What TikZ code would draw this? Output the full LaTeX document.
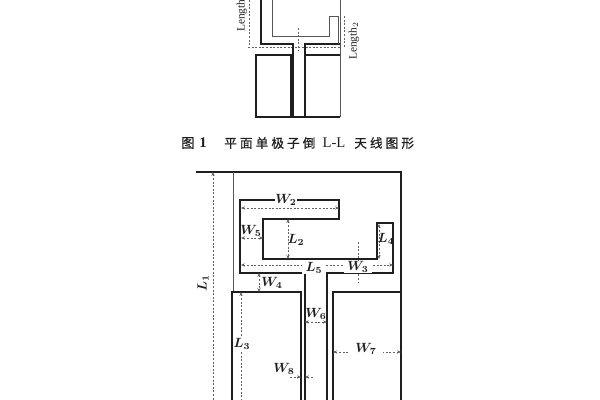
\documentclass[tikz,border=0pt]{standalone}
\usepackage{fontspec}
\setmainfont{Liberation Serif}
\newfontfamily\cjk[LetterSpace=24,FakeBold=0.6]{Noto Sans CJK SC}
\usetikzlibrary{arrows.meta}
\definecolor{ink}{gray}{0.12}
\tikzset{
  x=0.75pt,y=-0.75pt,
  wall/.style={draw=ink,line width=0.95pt},
  thinwall/.style={draw=ink!75,line width=0.7pt},
  dimline/.style={draw=ink!70,line width=0.6pt,dash pattern=on 1.5pt off 1.2pt},
  dimarrow/.style={dimline,{Stealth[length=3pt,width=2.5pt]}-{Stealth[length=3pt,width=2.5pt]}},
  dimlabel/.style={inner sep=0.6pt,fill=white,font=\fontsize{10pt}{11pt}\selectfont\boldmath,text=ink},
  toplabel/.style={inner sep=0pt,rotate=90,font=\fontsize{8.5pt}{9pt}\selectfont,text=ink},
  captext/.style={inner sep=0pt,text=ink}
}
\begin{document}
\begin{tikzpicture}
\useasboundingbox[fill=white] (0,0) rectangle (600,400);
% ---- upper figure
\begin{scope}
\clip (0,0) rectangle (600,400);
\draw[dimline] (249,0) -- (249,47);
\draw[dimline] (248,47) -- (341,47);
\draw[dimline] (298,28) -- (298,51);
\draw[dimline] (344,16) -- (344,47);
\draw[wall] (261,0) -- (261,44) -- (293,44) -- (293,117);
\draw[wall] (305,117) -- (305,44) -- (340,44);
\draw[thinwall] (272,0) -- (272,36) -- (329,36) -- (329,16.5) -- (338,16.5) -- (338,44);
\draw[thinwall] (340,0) -- (340,117);
\draw[wall] (256,55) -- (291,55) -- (291,117) -- (256,117) -- cycle;
\draw[wall] (305,55) -- (340,55);
\draw[wall] (291,117) -- (340,117);
\node[toplabel,anchor=west] (lenA) at (242,32) {Length};
\node[toplabel,anchor=west] (lenB) at (354,60) {Length$_2$};
\end{scope}
% ---- caption
\node[captext,anchor=west] (capA) at (181,143) {\cjk\fontsize{10pt}{11pt}\selectfont 图};
\node[captext] (capB) at (203,143) {\fontsize{11pt}{11pt}\selectfont\bfseries 1};
\node[captext,anchor=west] (capC) at (224,143) {\cjk\fontsize{9.5pt}{11pt}\selectfont 平面单极子倒};
\node[captext] (capD) at (334,143) {\fontsize{11pt}{11pt}\selectfont L-L};
\node[captext,anchor=west] (capE) at (354,143) {\cjk\fontsize{9.5pt}{11pt}\selectfont 天线图形};
% ---- lower figure
\draw[wall] (196,172) -- (401,172) -- (401,400);
\draw[thinwall] (233,172) -- (233,292);
\draw[wall] (232,400) -- (232,292) -- (301,292) -- (301,400);
\draw[wall] (333,400) -- (333,292) -- (401,292);
\draw[wall] (305,400) -- (305,273) -- (240,273) -- (240,200) -- (339,200) -- (339,219) -- (263,219) -- (263,259) -- (377,259) -- (377,223) -- (393,223) -- (393,273) -- (327,273) -- (327,400);
% dimension lines
\draw[dimline,{Stealth[length=3pt,width=2.5pt]}-] (213,172) -- (213,400);
\draw[dimarrow] (241,208) -- (339,208);
\draw[dimarrow] (241,238) -- (263,238);
\draw[dimarrow] (288,219) -- (288,259);
\draw[dimarrow] (379,224) -- (379,259);
\draw[dimarrow] (241,265) -- (393,265);
\draw[dimline] (358,242) -- (358,283);
\draw[dimarrow] (259,273) -- (259,292);
\draw[dimarrow] (305,322) -- (327,322);
\draw[dimarrow] (333,352) -- (401,352);
\draw[dimline,{Stealth[length=3pt,width=2.5pt]}-] (241,292) -- (241,400);
\draw[dimline,-{Stealth[length=3pt,width=2.5pt]}] (290,377) -- (301,377);
\draw[dimline,{Stealth[length=3pt,width=2.5pt]}-] (305,377) -- (314,377);
% labels
\node[dimlabel] (w2) at (286,200) {$W_2$};
\node[dimlabel,fill=none] (w5) at (251,231) {$W_5$};
\node[dimlabel,fill=none] (l2) at (296,240) {$L_2$};
\node[dimlabel,fill=none] (l4) at (386,239) {$L_4$};
\node[dimlabel] (l5) at (314,268) {$\,L_5\,$};
\node[dimlabel] (w3) at (358,267) {$\,W_3\,$};
\node[dimlabel,fill=none] (w4) at (272,283) {$W_4$};
\node[dimlabel,fill=none] (w6) at (316,314) {$W_6$};
\node[dimlabel] (w7) at (366,349) {$\,\,W_7\,\,$};
\node[dimlabel] (l3) at (242,344) {$L_3$};
\node[dimlabel,fill=none] (w8) at (284,369) {$W_8$};
\node[dimlabel,rotate=90] (l1) at (203,283) {$L_1$};
\end{tikzpicture}
\end{document}
